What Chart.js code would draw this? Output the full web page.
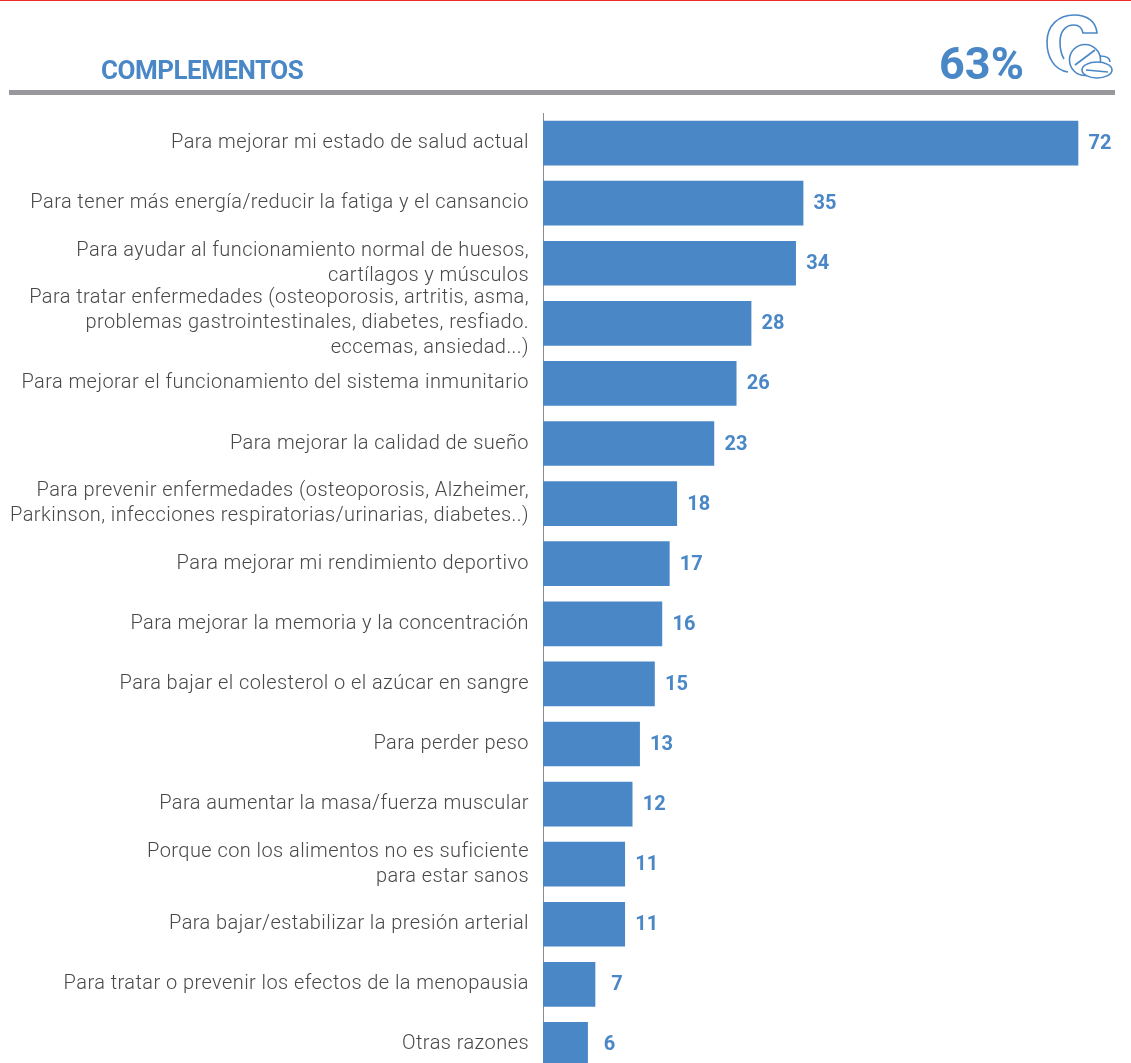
<!DOCTYPE html>
<html>
<head>
<meta charset="utf-8">
<title>Complementos</title>
<script src="https://cdn.jsdelivr.net/npm/chart.js@4"></script>
<style>
  html, body { margin: 0; padding: 0; background: #fff; overflow: hidden; }
  #wrap { position: relative; width: 1131px; height: 1063px; overflow: hidden; }
  #chart { display: block; }
</style>
</head>
<body>
<div id="wrap"><canvas id="chart" width="1131" height="1101"></canvas></div>
<script>
const categories = [
  "Para mejorar mi estado de salud actual",
  "Para tener más energía/reducir la fatiga y el cansancio",
  ["Para ayudar al funcionamiento normal de huesos,", "cartílagos y músculos"],
  ["Para tratar enfermedades (osteoporosis, artritis, asma,", "problemas gastrointestinales, diabetes, resfiado.", "eccemas, ansiedad...)"],
  "Para mejorar el funcionamiento del sistema inmunitario",
  "Para mejorar la calidad de sueño",
  ["Para prevenir enfermedades (osteoporosis, Alzheimer,", "Parkinson, infecciones respiratorias/urinarias, diabetes..)"],
  "Para mejorar mi rendimiento deportivo",
  "Para mejorar la memoria y la concentración",
  "Para bajar el colesterol o el azúcar en sangre",
  "Para perder peso",
  "Para aumentar la masa/fuerza muscular",
  ["Porque con los alimentos no es suficiente", "para estar sanos"],
  "Para bajar/estabilizar la presión arterial",
  "Para tratar o prevenir los efectos de la menopausia",
  "Otras razones"
];
const values = [72, 35, 34, 28, 26, 23, 18, 17, 16, 15, 13, 12, 11, 11, 7, 6];
const sectionTitle = "COMPLEMENTOS";
const sectionTotal = "63%";

const BLUE = "#4a87c6";
const TEXT = "#48484a";

// Header band: red top line, title, total, grey rule and the pills icon
const headerPlugin = {
  id: "header",
  beforeDraw(chart) {
    const { ctx } = chart;
    ctx.save();
    ctx.fillStyle = "#ee2a24";
    ctx.fillRect(0, 0, 1131, 1);
    ctx.fillStyle = "#97979c";
    ctx.fillRect(9, 90, 1106, 5);

    ctx.fillStyle = BLUE;
    ctx.textBaseline = "alphabetic";
    ctx.textAlign = "left";
    ctx.font = "bold 26px Roboto";
    ctx.letterSpacing = "-0.5px";
    ctx.fillText(sectionTitle, 101, 79);
    ctx.font = "bold 45px Roboto";
    ctx.letterSpacing = "0px";
    ctx.fillText(sectionTotal, 939, 79);

    ctx.strokeStyle = BLUE;
    ctx.lineWidth = 1.6;
    ctx.stroke(new Path2D("M1068 72 C1054 70 1047 57 1047 42 C1047 25 1059 15 1074 15 C1088 15 1096 22 1097 33 L1083 33 C1082 28 1079 25 1074 25 C1065 25 1060 32 1060 42 C1060 48 1061 54 1064 59"));
    ctx.beginPath();
    ctx.arc(1085, 60, 15.5, 0, Math.PI * 2);
    ctx.stroke();
    ctx.beginPath();
    ctx.moveTo(1075, 65);
    ctx.lineTo(1095, 50);
    ctx.stroke();
    ctx.stroke(new Path2D("M1100 56 C1106 56 1110 58 1110 62"));
    ctx.fillStyle = "#fff";
    ctx.beginPath();
    ctx.ellipse(1097, 70, 15, 8, 0, 0, Math.PI * 2);
    ctx.fill();
    ctx.stroke();
    ctx.beginPath();
    ctx.moveTo(1086, 70);
    ctx.lineTo(1108, 72);
    ctx.stroke();
    ctx.restore();
    // tick labels inherit this spacing
    ctx.letterSpacing = "0.43px";
  }
};

// Value printed just past the end of each bar
const valueLabelPlugin = {
  id: "valueLabels",
  afterDatasetsDraw(chart) {
    const { ctx } = chart;
    const meta = chart.getDatasetMeta(0);
    ctx.save();
    ctx.fillStyle = BLUE;
    ctx.font = "bold 20px Roboto";
    ctx.letterSpacing = "0px";
    ctx.textAlign = "center";
    ctx.textBaseline = "middle";
    meta.data.forEach((bar, i) => {
      ctx.fillText(String(values[i]), bar.x + 22, bar.y + 1);
    });
    ctx.restore();
  }
};

new Chart(document.getElementById("chart"), {
  type: "bar",
  data: {
    labels: categories,
    datasets: [{
      data: values,
      backgroundColor: BLUE,
      borderWidth: 0,
      barThickness: 44
    }]
  },
  options: {
    indexAxis: "y",
    responsive: false,
    animation: false,
    layout: { padding: { top: 113, right: 1, bottom: 0, left: 0 } },
    plugins: { legend: { display: false }, tooltip: { enabled: false } },
    scales: {
      x: { display: false, min: 0, max: 79, grid: { display: false } },
      y: {
        afterFit(scale) { scale.width = 543; },
        grid: { display: false, tickLength: 0 },
        border: { display: true, color: "#8c8c8c", width: 1 },
        ticks: {
          autoSkip: false,
          padding: 14,
          color: TEXT,
          font: { family: "Roboto", size: 20, weight: "300", lineHeight: 1.25 }
        }
      }
    }
  },
  plugins: [headerPlugin, valueLabelPlugin]
});
</script>
</body>
</html>
